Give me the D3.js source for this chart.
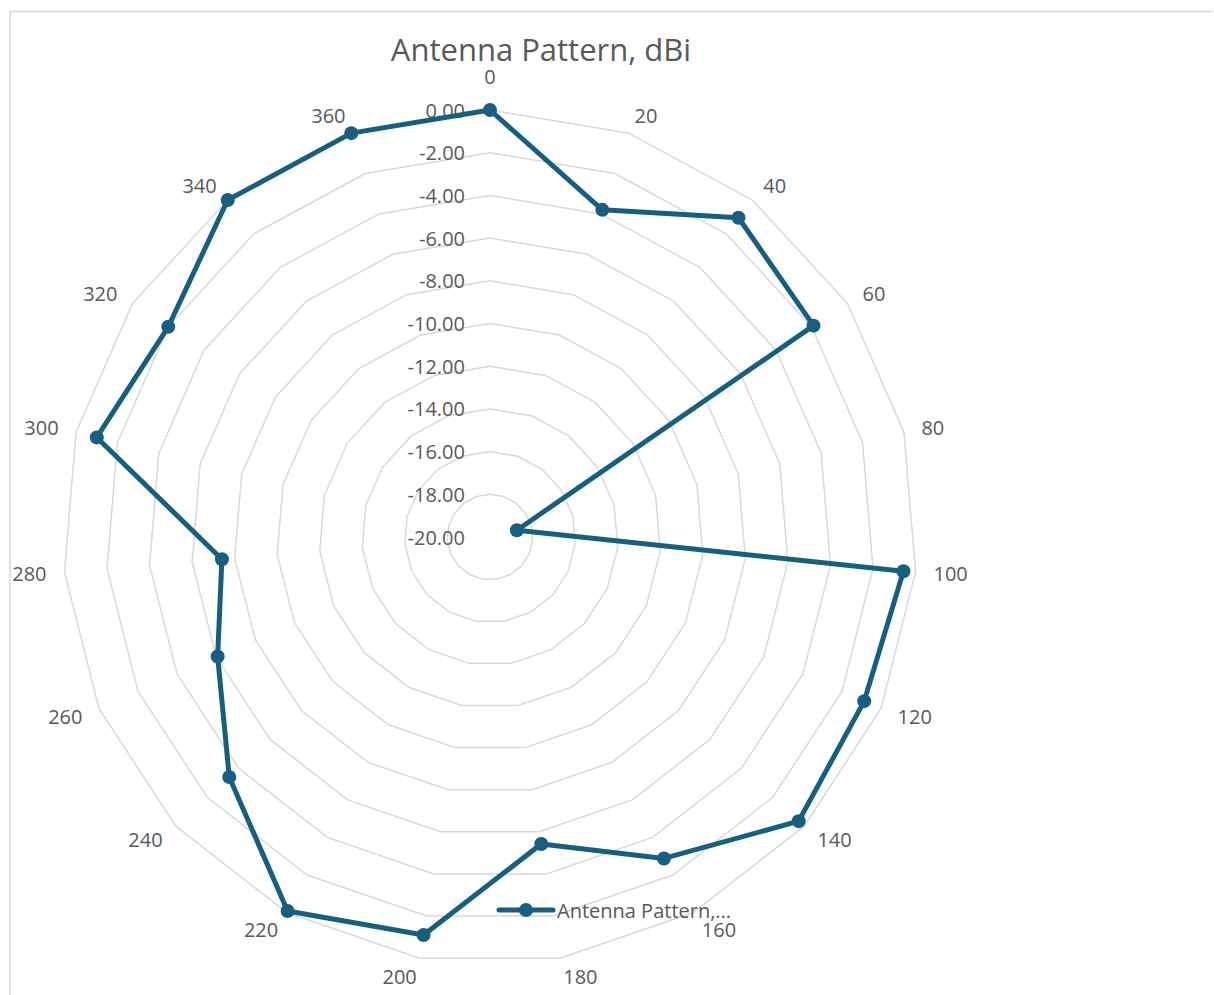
<!DOCTYPE html>
<html>
<head>
<meta charset="utf-8">
<script src="https://cdn.jsdelivr.net/npm/d3@7"></script>
<style>
  html, body { margin: 0; padding: 0; background: #ffffff; }
  svg { display: block; }
  text { font-family: "Open Sans", "Segoe UI", sans-serif; fill: #595959; }
</style>
</head>
<body>
<svg id="chart" width="1214" height="995"></svg>
<script>
// Azimuth categories (degrees) around the radar
const angles = [0, 20, 40, 60, 80, 100, 120, 140, 160, 180, 200, 220, 240, 260, 280, 300, 320, 340, 360];
// Measured gain per azimuth, dBi
const gain = [0.0, -3.8, -1.05, -1.9, -18.7, -0.57, -0.86, -0.35, -2.88, -5.42, -1.1, -0.08, -3.4, -6.07, -7.4, -1.0, -2.0, 0.0, 0.0];
// Radial axis ticks
const radialTicks = [0, -2, -4, -6, -8, -10, -12, -14, -16, -18, -20];
const seriesName = "Antenna Pattern, dBi";
const chartTitle = "Antenna Pattern, dBi";

const svg = d3.select("#chart");
const W = 1214, H = 995;
const cx = 490, cy = 537, R = 427;
const gridColor = "#d9d9d9";
const lineColor = "#185f7f";

// Plain hyphen for negative numbers
const fmt = d3.formatLocale({ decimal: ".", thousands: ",", grouping: [3], currency: ["", ""], minus: "-" }).format(".2f");

// Chart frame
svg.append("path")
  .attr("d", `M10,${H} L10,11.5 L${W - 1},11.5`)
  .attr("fill", "none")
  .attr("stroke", gridColor)
  .attr("stroke-width", 1.5);

const rScale = d3.scaleLinear().domain([-20, 0]).range([0, R]);
const aScale = d3.scaleLinear().domain([0, angles.length]).range([0, 2 * Math.PI]);

const plot = svg.append("g").attr("transform", `translate(${cx},${cy})`);

// Polygonal gridlines
const ringLine = d3.lineRadial().curve(d3.curveLinearClosed);
plot.append("g").selectAll("path")
  .data(radialTicks.filter(t => t > -20))
  .join("path")
  .attr("d", t => ringLine(angles.map((_, i) => [aScale(i), rScale(t)])))
  .attr("fill", "none")
  .attr("stroke", gridColor)
  .attr("stroke-width", 1.5);

// Radial value labels along the 0° spoke
plot.append("g").selectAll("text")
  .data(radialTicks)
  .join("text")
  .attr("x", -25)
  .attr("y", t => -rScale(t))
  .attr("text-anchor", "end")
  .attr("dominant-baseline", "central")
  .style("font-size", "20px")
  .text(t => fmt(t));

// Category labels outside the outer ring
plot.append("g").selectAll("text")
  .data(angles)
  .join("text")
  .each(function (d, i) {
    const a = aScale(i);
    const s = Math.sin(a), c = Math.cos(a);
    const vx = R * s, vy = -R * c;
    const t = d3.select(this);
    if (Math.abs(s) < 1e-6) {
      t.attr("x", vx).attr("y", vy - 34).attr("text-anchor", "middle");
    } else {
      t.attr("x", vx + 18 * s).attr("y", vy - 19 * c)
        .attr("text-anchor", s > 0 ? "start" : "end");
    }
  })
  .attr("dominant-baseline", "central")
  .style("font-size", "20px")
  .text(d => d);

// Data series (closed loop, last point joins the first)
const pts = gain.map((g, i) => [aScale(i), rScale(g)]);
plot.append("path")
  .attr("d", d3.lineRadial().curve(d3.curveLinearClosed)(pts))
  .attr("fill", "none")
  .attr("stroke", lineColor)
  .attr("stroke-width", 5)
  .attr("stroke-linejoin", "round");

plot.append("g").selectAll("circle")
  .data(pts)
  .join("circle")
  .attr("cx", d => d[1] * Math.sin(d[0]))
  .attr("cy", d => -d[1] * Math.cos(d[0]))
  .attr("r", 7)
  .attr("fill", lineColor);

// Title
svg.append("text")
  .attr("x", 541)
  .attr("y", 49)
  .attr("text-anchor", "middle")
  .attr("dominant-baseline", "central")
  .style("font-size", "31px")
  .text(chartTitle);

// Legend
const lg = svg.append("g").attr("transform", "translate(499,910)");
lg.append("line")
  .attr("x1", 0).attr("x2", 54).attr("y1", 0).attr("y2", 0)
  .attr("stroke", lineColor).attr("stroke-width", 5).attr("stroke-linecap", "round");
lg.append("circle").attr("cx", 27).attr("cy", 0).attr("r", 7).attr("fill", lineColor);
lg.append("text")
  .attr("x", 58).attr("y", 0)
  .attr("dominant-baseline", "central")
  .style("font-size", "20px")
  .text(seriesName.split(",")[0] + ",...");
</script>
</body>
</html>
